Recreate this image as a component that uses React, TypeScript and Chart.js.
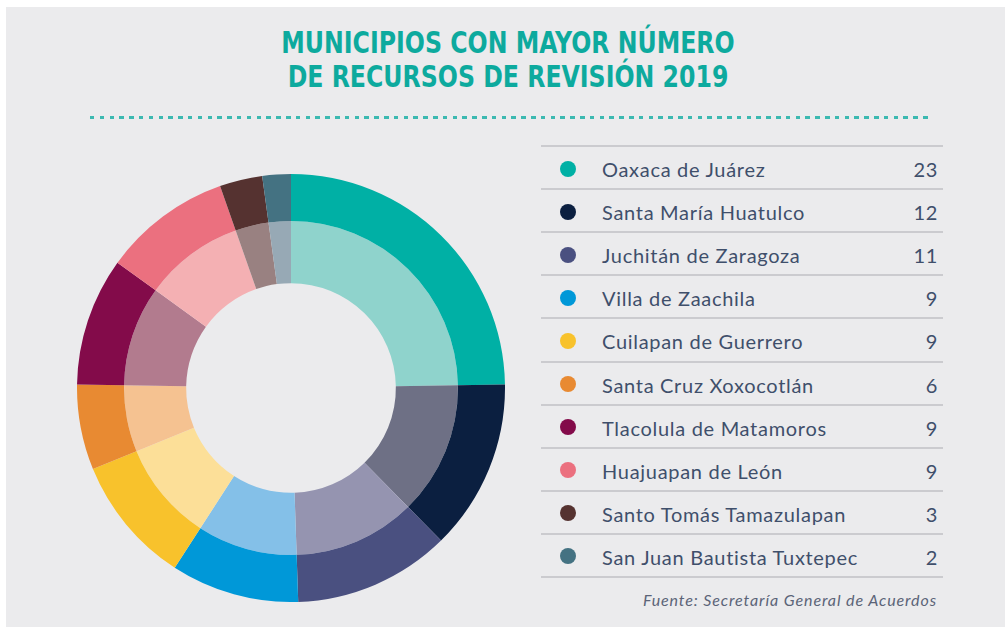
import React, { useEffect, useRef } from "react";
import { Chart, registerables } from "chart.js";

Chart.register(...registerables);

const TITLE_LINES = ["MUNICIPIOS CON MAYOR NÚMERO", "DE RECURSOS DE REVISIÓN 2019"];
const MUNICIPIOS = [
  "Oaxaca de Juárez",
  "Santa María Huatulco",
  "Juchitán de Zaragoza",
  "Villa de Zaachila",
  "Cuilapan de Guerrero",
  "Santa Cruz Xoxocotlán",
  "Tlacolula de Matamoros",
  "Huajuapan de León",
  "Santo Tomás Tamazulapan",
  "San Juan Bautista Tuxtepec",
];
const RECURSOS = [23, 12, 11, 9, 9, 6, 9, 9, 3, 2];
const OUTER_COLORS = [
  "#00b0a5", "#0b1f40", "#4a5080", "#0098d8", "#f8c22c",
  "#e88a32", "#830b4a", "#eb707f", "#553230", "#447282",
];
const INNER_COLORS = [
  "#8fd3cc", "#6e7085", "#9594b0", "#84c0e8", "#fcdf98",
  "#f5c291", "#b27b8e", "#f4b0b3", "#998181", "#97a9b5",
];
const FUENTE = "Fuente: Secretaría General de Acuerdos";

const TEXT = "#3f4f6b";

export default function App() {
  const ref = useRef<HTMLCanvasElement | null>(null);

  useEffect(() => {
    document.body.style.margin = "0";
    const chart = new Chart(ref.current as HTMLCanvasElement, {
      type: "doughnut",
      data: {
        labels: MUNICIPIOS,
        datasets: [
          { data: RECURSOS, backgroundColor: OUTER_COLORS, borderWidth: 0, weight: 47 },
          { data: RECURSOS, backgroundColor: INNER_COLORS, borderWidth: 0, weight: 62 },
        ],
      },
      options: {
        animation: false,
        responsive: false,
        maintainAspectRatio: false,
        cutout: "49%",
        layout: { padding: 0 },
        plugins: { legend: { display: false }, tooltip: { enabled: false } },
      },
    });
    return () => chart.destroy();
  }, []);

  const rowTop = 146;
  const rowH = 43.1;

  return (
    <div style={{ position: "fixed", left: 0, top: 0, width: 1005, height: 628, background: "#ffffff", overflow: "hidden" }}>
      <div style={{ position: "absolute", left: 6, top: 7, width: 999, height: 620, background: "#ebebed" }} />
      {TITLE_LINES.map((t, i) => (
        <div
          key={t}
          style={{
            position: "absolute",
            left: 0,
            width: 1016,
            top: 43 + i * 34 - 18,
            height: 36,
            lineHeight: "36px",
            textAlign: "center",
            fontFamily: "'Liberation Sans Narrow', 'DejaVu Sans Condensed', sans-serif",
            fontWeight: 700,
            fontSize: 30,
            color: "#0daa9e",
            whiteSpace: "nowrap",
            transform: "scaleX(0.876)",
            transformOrigin: "508px 50%",
          }}
        >
          {t}
        </div>
      ))}
      <div
        style={{
          position: "absolute",
          left: 90,
          top: 115.5,
          width: 838,
          height: 3,
          backgroundImage: "repeating-linear-gradient(to right, #3cb9b1 0px, #3cb9b1 4.5px, transparent 4.5px, transparent 9.8px)",
        }}
      />
      <canvas ref={ref} width={428} height={428} style={{ position: "absolute", left: 77, top: 174, width: 428, height: 428 }} />
      {MUNICIPIOS.map((m, i) => (
        <React.Fragment key={m}>
          <div style={{ position: "absolute", left: 541, width: 402, top: rowTop + i * rowH - 1, height: 2, background: "#cbcbcf" }} />
          <div
            style={{
              position: "absolute",
              left: 560,
              top: rowTop + i * rowH + rowH / 2 - 8 + 1,
              width: 16,
              height: 16,
              borderRadius: 8,
              background: OUTER_COLORS[i],
            }}
          />
          <div
            style={{
              position: "absolute",
              left: 602,
              top: rowTop + i * rowH + 2,
              height: rowH,
              lineHeight: rowH + "px",
              fontFamily: "Lato, sans-serif",
              fontSize: 20,
              letterSpacing: "0.7px",
              color: TEXT,
              whiteSpace: "nowrap",
            }}
          >
            {m}
          </div>
          <div
            style={{
              position: "absolute",
              right: 1005 - 938,
              top: rowTop + i * rowH + 2,
              height: rowH,
              lineHeight: rowH + "px",
              fontFamily: "Lato, sans-serif",
              fontSize: 20,
              letterSpacing: "0.7px",
              color: TEXT,
              textAlign: "right",
              whiteSpace: "nowrap",
            }}
          >
            {RECURSOS[i]}
          </div>
        </React.Fragment>
      ))}
      <div style={{ position: "absolute", left: 541, width: 402, top: rowTop + 10 * rowH - 1, height: 2, background: "#cbcbcf" }} />
      <div
        style={{
          position: "absolute",
          right: 1005 - 937,
          top: 590,
          height: 20,
          lineHeight: "20px",
          fontFamily: "Lato, sans-serif",
          fontStyle: "italic",
          fontSize: 16,
          letterSpacing: "0.9px",
          color: "#5b6478",
          whiteSpace: "nowrap",
        }}
      >
        {FUENTE}
      </div>
    </div>
  );
}
